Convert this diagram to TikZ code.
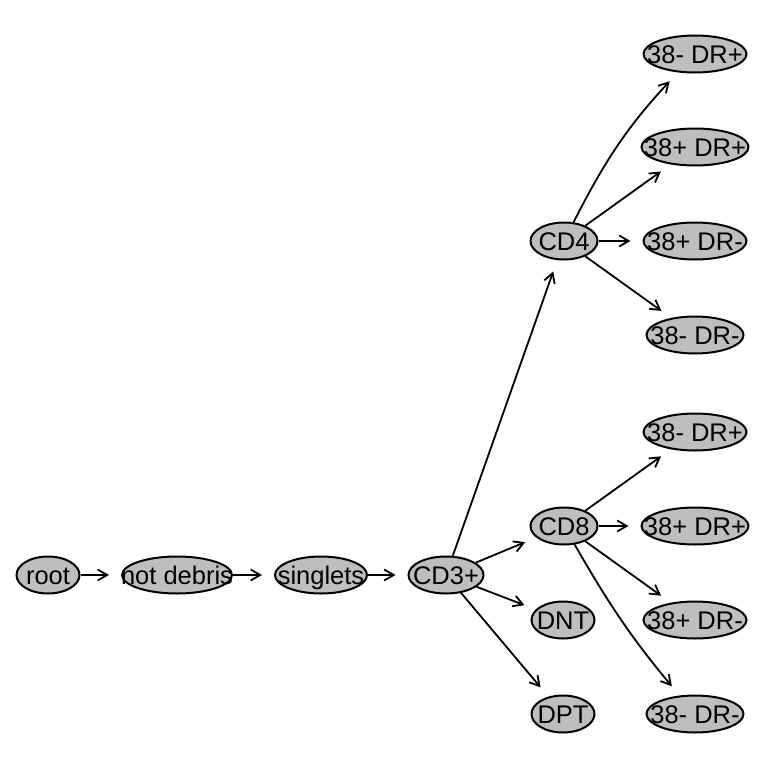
\documentclass[tikz,border=0pt]{standalone}
\usepackage{fontspec}
\setmainfont{Liberation Sans}
\usetikzlibrary{shapes.geometric,arrows.meta}
\definecolor{gatefill}{RGB}{190,190,190}
\tikzset{
  gate/.style={ellipse, draw=black, fill=gatefill, line width=2pt,
    inner sep=0pt, minimum height=37pt},
  every label/.style={font=\fontsize{25.5}{30}\selectfont, inner sep=0pt,
    text height=18.5pt, text depth=0pt},
  edge/.style={line width=1.8pt, shorten >=12pt,
    -{Straight Barb[angle=60:11pt, line width=1.8pt]}}
}
\begin{document}
\begin{tikzpicture}[x=1pt, y=-1pt]
  \useasboundingbox[fill=white] (0,0) rectangle (768,768);

  % gating hierarchy, left to right
  \node[gate, minimum width=63pt,  label=center:root]       (root) at (48,575)  {};
  \node[gate, minimum width=110pt, label=center:not debris] (nd)   at (177,575) {};
  \node[gate, minimum width=92pt,  label=center:singlets]   (sing) at (321,575) {};
  \node[gate, minimum width=75pt,  label=center:CD3+]       (cd3)  at (446,575) {};

  \node[gate, minimum width=67pt, label=center:CD4] (cd4) at (564,241) {};
  \node[gate, minimum width=67pt, label=center:CD8] (cd8) at (564,526) {};
  \node[gate, minimum width=63pt, label=center:DNT] (dnt) at (563,620) {};
  \node[gate, minimum width=63pt, label=center:DPT] (dpt) at (563,714) {};

  % CD4 subsets
  \node[gate, minimum width=103pt, label=center:{38- DR+}] (a1) at (695,54)  {};
  \node[gate, minimum width=107pt, label=center:{38+ DR+}] (a2) at (695,147) {};
  \node[gate, minimum width=103pt, label=center:{38+ DR-}] (a3) at (695,241) {};
  \node[gate, minimum width=97pt,  label=center:{38- DR-}] (a4) at (695,335) {};

  % CD8 subsets
  \node[gate, minimum width=103pt, label=center:{38- DR+}] (b1) at (695,432) {};
  \node[gate, minimum width=107pt, label=center:{38+ DR+}] (b2) at (695,526) {};
  \node[gate, minimum width=103pt, label=center:{38+ DR-}] (b3) at (695,620) {};
  \node[gate, minimum width=97pt,  label=center:{38- DR-}] (b4) at (695,714) {};

  % edges
  \draw[edge] (root) -- (nd);
  \draw[edge] (nd) -- (sing);
  \draw[edge] (sing) -- (cd3);
  \draw[edge] (cd3) -- (cd4);
  \draw[edge] (cd3) -- (cd8);
  \draw[edge] (cd3) -- (dnt);
  \draw[edge] (cd3) -- (dpt);

  \draw[edge] (cd4) to[bend left=8] (a1);
  \draw[edge] (cd4) -- (a2);
  \draw[edge] (cd4) -- (a3);
  \draw[edge] (cd4) -- (a4);

  \draw[edge] (cd8) -- (b1);
  \draw[edge] (cd8) -- (b2);
  \draw[edge] (cd8) -- (b3);
  \draw[edge] (cd8) to[bend right=5] (b4);
\end{tikzpicture}
\end{document}
